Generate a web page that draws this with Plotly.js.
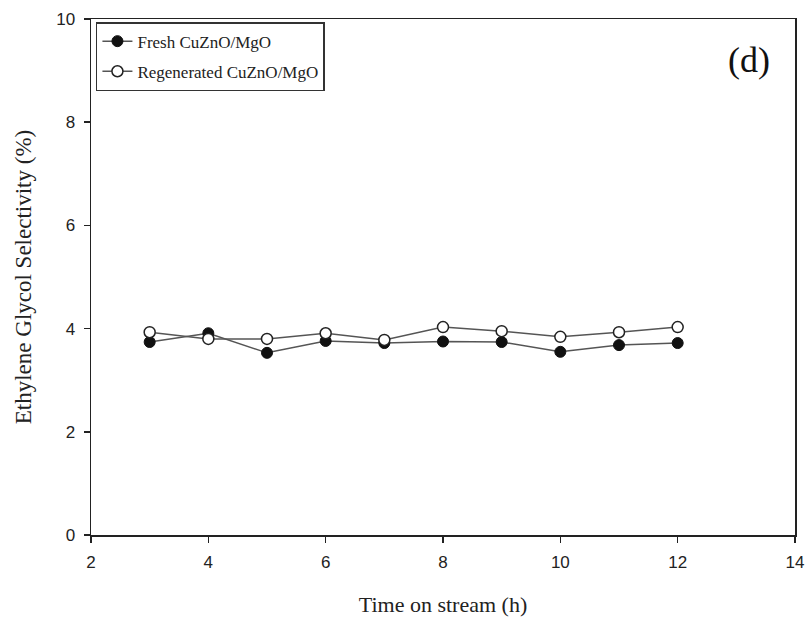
<!DOCTYPE html>
<html>
<head>
<meta charset="utf-8">
<script src="https://cdn.plot.ly/plotly-3.0.1.min.js"></script>
<style>html,body{margin:0;padding:0;background:#fff;}#chart{width:808px;height:617px;}</style>
</head>
<body>
<div id="chart"></div>
<script>
const timeOnStream = [3, 4, 5, 6, 7, 8, 9, 10, 11, 12];
const freshSelectivity = [3.74, 3.91, 3.53, 3.76, 3.72, 3.75, 3.74, 3.55, 3.68, 3.72];
const regenSelectivity = [3.93, 3.80, 3.80, 3.91, 3.78, 4.03, 3.95, 3.84, 3.93, 4.03];
const seriesNames = ["Fresh CuZnO/MgO", "Regenerated CuZnO/MgO"];
const xTicks = [2, 4, 6, 8, 10, 12, 14];
const yTicks = [0, 2, 4, 6, 8, 10];

const traces = [
  {
    x: timeOnStream, y: freshSelectivity, name: seriesNames[0], legendgroup: "a",
    mode: "lines+markers", type: "scatter",
    line: {color: "#555", width: 1.5},
    marker: {symbol: "circle", size: 11, color: "#111", line: {color: "#111", width: 1}}
  },
  {
    x: timeOnStream, y: regenSelectivity, name: seriesNames[1], legendgroup: "b",
    mode: "lines+markers", type: "scatter",
    line: {color: "#555", width: 1.5},
    marker: {symbol: "circle", size: 11, color: "#fff", line: {color: "#222", width: 1.5}}
  }
];

const layout = {
  width: 808, height: 617,
  margin: {l: 91, r: 13, t: 19, b: 82},
  paper_bgcolor: "#fff", plot_bgcolor: "#fff",
  showlegend: true,
  legend: {
    x: 0.007, y: 0.994, xanchor: "left", yanchor: "top",
    bgcolor: "#fff", bordercolor: "#333", borderwidth: 1.5,
    font: {family: "Liberation Serif, Times New Roman, serif", size: 17, color: "#222"},
    traceorder: "grouped", tracegroupgap: 5
  },
  xaxis: {
    range: [2, 14], tickvals: xTicks, ticktext: xTicks.map(String),
    showgrid: false, zeroline: false,
    showline: true, linecolor: "#222", linewidth: 1.5, mirror: true,
    ticks: "outside", ticklen: 6, tickcolor: "#222", tickwidth: 1.5,
    ticklabelstandoff: 5,
    tickfont: {family: "Liberation Sans, Arial, sans-serif", size: 17, color: "#222"},
    title: {text: "Time on stream (h)", standoff: 30,
      font: {family: "Liberation Serif, Times New Roman, serif", size: 22, color: "#222"}}
  },
  yaxis: {
    range: [0, 10], tickvals: yTicks, ticktext: yTicks.map(String),
    showgrid: false, zeroline: false,
    showline: true, linecolor: "#222", linewidth: 1.5, mirror: true,
    ticks: "outside", ticklen: 6, tickcolor: "#222", tickwidth: 1.5,
    ticklabelstandoff: 5,
    tickfont: {family: "Liberation Sans, Arial, sans-serif", size: 17, color: "#222"},
    title: {text: "Ethylene Glycol Selectivity (%)", standoff: 18,
      font: {family: "Liberation Serif, Times New Roman, serif", size: 23, color: "#222"}}
  },
  annotations: [
    {text: "(d)", xref: "paper", yref: "paper", x: 0.935, y: 0.92,
     xanchor: "center", yanchor: "middle", showarrow: false,
     font: {family: "Liberation Serif, Times New Roman, serif", size: 36, color: "#111"}}
  ]
};

Plotly.newPlot("chart", traces, layout, {displayModeBar: false, staticPlot: true});
</script>
</body>
</html>
